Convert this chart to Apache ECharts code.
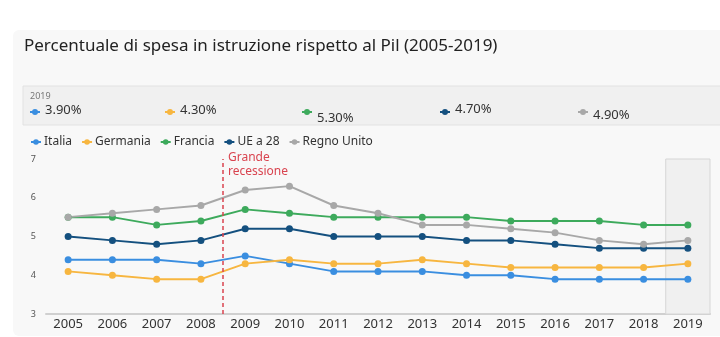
<!DOCTYPE html>
<html><head><meta charset="utf-8">
<script src="https://cdn.jsdelivr.net/npm/echarts@6/dist/echarts.min.js"></script>
<style>html,body{margin:0;padding:0;background:#fff;}#c{width:720px;height:337px;}</style>
</head><body><div id="c"></div>
<script>
var years = [2005,2006,2007,2008,2009,2010,2011,2012,2013,2014,2015,2016,2017,2018,2019];
var seriesNames = ['Italia','Germania','Francia','UE a 28','Regno Unito'];
var italia    = [4.4,4.4,4.4,4.3,4.5,4.3,4.1,4.1,4.1,4.0,4.0,3.9,3.9,3.9,3.9];
var germania  = [4.1,4.0,3.9,3.9,4.3,4.4,4.3,4.3,4.4,4.3,4.2,4.2,4.2,4.2,4.3];
var francia   = [5.5,5.5,5.3,5.4,5.7,5.6,5.5,5.5,5.5,5.5,5.4,5.4,5.4,5.3,5.3];
var ue28      = [5.0,4.9,4.8,4.9,5.2,5.2,5.0,5.0,5.0,4.9,4.9,4.8,4.7,4.7,4.7];
var regnoUnito= [5.5,5.6,5.7,5.8,6.2,6.3,5.8,5.6,5.3,5.3,5.2,5.1,4.9,4.8,4.9];
var yTicks = [3,4,5,6,7];
var recessionYear = 2008.5;
var recessionLabel = 'Grande\nrecessione';
var highlightYear = 2019;
var titleText = 'Percentuale di spesa in istruzione rispetto al Pil (2005-2019)';

var colors = ['#3a8ee0','#f7b640','#3daa5c','#14507f','#a8a8a8'];
var allData = [italia, germania, francia, ue28, regnoUnito];
var FONT = "'Noto Sans', 'Open Sans', sans-serif";

var series = seriesNames.map(function(n,i){
  var s = {
    name: n, type: 'line',
    data: years.map(function(y,j){ return [y, allData[i][j]]; }),
    symbol: 'circle', symbolSize: 7,
    lineStyle: {width: 2, color: colors[i]},
    itemStyle: {color: colors[i]},
    z: 3
  };
  if (i === 0) {
    s.markLine = {
      silent: true, symbol: ['none','none'],
      lineStyle: {color: '#d9434f', type: [4,3], width: 1.5},
      label: {show: false},
      data: [{xAxis: recessionYear}]
    };
    s.markArea = {
      silent: true,
      itemStyle: {color: '#f0f0f0', borderColor: '#d6d6d6', borderWidth: 1},
      data: [[{xAxis: highlightYear - 0.5}, {xAxis: highlightYear + 0.5}]]
    };
  }
  return s;
});

var bandX = [30, 165, 302, 440, 578];
var bandTextDy = [0, 0, 8, -1, 5];
var graphics = [
  {type:'rect', shape:{x:13,y:30,width:720,height:306,r:6}, style:{fill:'#f8f8f8'}, z:-10},
  {type:'rect', shape:{x:23,y:86,width:700,height:39}, style:{fill:'#f0f0f0', stroke:'#e2e2e2', lineWidth:1}, z:-9},
  {type:'text', left:24, top:38, style:{text:titleText, font:'17px ' + FONT, fill:'#222'}},
  {type:'text', left:30, top:92, style:{text:String(highlightYear), font:'9px ' + FONT, fill:'#777'}},
  {type:'text', left:228, top:151, style:{text:recessionLabel, font:'12px ' + FONT, fill:'#d9434f', lineHeight:14}}
];
seriesNames.forEach(function(n,i){
  var x = bandX[i];
  var last = allData[i][allData[i].length-1];
  graphics.push({type:'line', shape:{x1:x, y1:112, x2:x+10, y2:112}, style:{stroke:colors[i], lineWidth:2}});
  graphics.push({type:'circle', shape:{cx:x+5, cy:112, r:3}, style:{fill:colors[i]}});
  graphics.push({type:'text', left:x+15, top:104 + bandTextDy[i], style:{text:last.toFixed(2)+'%', font:'13px ' + FONT, fill:'#333'}});
});

var chart = echarts.init(document.getElementById('c'), null, {renderer:'canvas'});
chart.setOption({
  animation: false,
  backgroundColor: '#ffffff',
  color: colors,
  textStyle: {fontFamily: FONT},
  graphic: graphics,
  legend: {
    data: seriesNames, left: 25, top: 131,
    itemWidth: 10, itemHeight: 7, itemGap: 9,
    textStyle: {fontSize: 12, color: '#333', fontFamily: FONT, padding:[0,0,0,-2]}
  },
  grid: {left: 46, right: 10, top: 159, bottom: 23, containLabel: false},
  xAxis: {
    type: 'value', min: years[0]-0.5, max: years[years.length-1]+0.5,
    splitLine: {show:false},
    axisLine: {show:true, lineStyle:{color:'#d0d0d0', width:2}},
    axisTick: {show:false},
    axisLabel: {customValues: years, fontSize: 13, color: '#333', margin: 4, fontFamily: FONT,
      formatter: function(v){ return String(v); }}
  },
  yAxis: {
    type: 'value', min: yTicks[0], max: yTicks[yTicks.length-1], interval: 1,
    splitLine: {show:false},
    axisLine: {show:false}, axisTick: {show:false},
    axisLabel: {fontSize: 9, color: '#555', margin: 10, fontFamily: FONT}
  },
  series: series
});
</script></body></html>
